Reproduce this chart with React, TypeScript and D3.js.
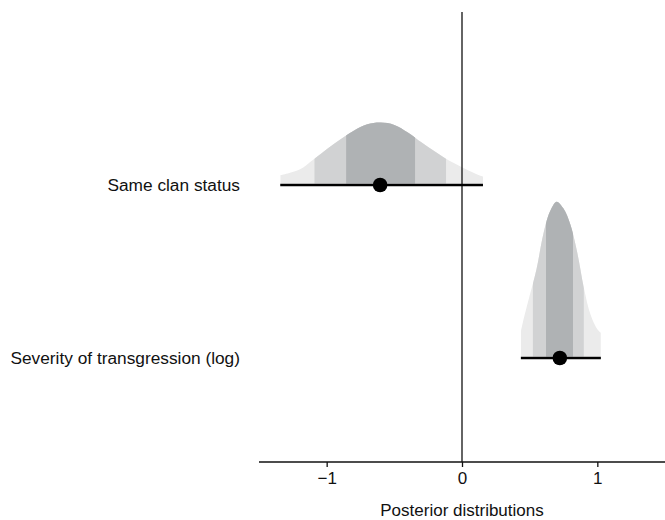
import { useEffect, useRef } from 'react';
import * as d3 from 'd3';

// Posterior summaries, one entry per predictor
const predictors = ['Same clan status', 'Severity of transgression (log)'];
const medians = [-0.605, 0.723];
const lower95 = [-1.343, 0.435];
const upper95 = [0.155, 1.026];
const lower80 = [-1.09, 0.524];
const upper80 = [-0.118, 0.9];
const lower50 = [-0.856, 0.62];
const upper50 = [-0.347, 0.82];

// Posterior density profiles
const clanX = [-1.343, -1.2, -1.1, -1.0, -0.9, -0.8, -0.7, -0.6, -0.5, -0.4, -0.3, -0.2, -0.1, 0, 0.1, 0.155];
const clanDensity = [0.14, 0.24, 0.41, 0.59, 0.76, 0.91, 1.02, 1.05, 1.01, 0.88, 0.71, 0.55, 0.4, 0.28, 0.17, 0.12];
const severityX = [0.435, 0.45, 0.5, 0.55, 0.6, 0.65, 0.7, 0.75, 0.8, 0.85, 0.9, 0.95, 1.0, 1.026];
const severityDensity = [0.43, 0.59, 1.05, 1.5, 2.1, 2.5, 2.67, 2.55, 2.28, 1.81, 1.19, 0.72, 0.47, 0.41];

const xTicks = [-1, 0, 1];

export default function App() {
  const svgRef = useRef<SVGSVGElement>(null);

  useEffect(() => {
    if (!svgRef.current) return;
    const svg = d3.select(svgRef.current);
    svg.selectAll('*').remove();

    const W = 665, H = 520;
    const font = '"Liberation Sans", Arial, Helvetica, sans-serif';
    const axisY = 462;

    const x = d3.scaleLinear().domain([-1.5, 1.5]).range([259, 665]);
    const y = d3.scalePoint<string>().domain(predictors).range([185, 358]);
    const dens = d3.scaleLinear().domain([0, 3]).range([0, 174]);

    const profiles = [
      clanX.map((v, i) => ({ x: v, d: clanDensity[i] })),
      severityX.map((v, i) => ({ x: v, d: severityDensity[i] })),
    ];

    const bands = [
      { lo: lower95, hi: upper95, fill: '#ebebeb' },
      { lo: lower80, hi: upper80, fill: '#d1d2d3' },
      { lo: lower50, hi: upper50, fill: '#afb2b4' },
    ];

    const defs = svg.append('defs');

    predictors.forEach((p, i) => {
      const base = y(p)! - 1.5;
      const area = d3.area<{ x: number; d: number }>()
        .x(d => x(d.x))
        .y0(base)
        .y1(d => base - dens(d.d))
        .curve(d3.curveCatmullRom);

      bands.forEach((b, j) => {
        const id = `clip-${i}-${j}`;
        defs.append('clipPath').attr('id', id)
          .append('rect')
          .attr('x', x(b.lo[i]))
          .attr('y', 0)
          .attr('width', x(b.hi[i]) - x(b.lo[i]))
          .attr('height', H);
        svg.append('path')
          .datum(profiles[i])
          .attr('d', area)
          .attr('fill', b.fill)
          .attr('clip-path', `url(#${id})`);
      });
    });

    // zero reference line
    svg.append('line')
      .attr('x1', x(0)).attr('x2', x(0))
      .attr('y1', 12).attr('y2', axisY)
      .attr('stroke', '#111').attr('stroke-width', 1.3);

    // intervals + medians
    predictors.forEach((p, i) => {
      svg.append('line')
        .attr('x1', x(lower95[i])).attr('x2', x(upper95[i]))
        .attr('y1', y(p)!).attr('y2', y(p)!)
        .attr('stroke', '#000').attr('stroke-width', 2.6);
      svg.append('circle')
        .attr('cx', x(medians[i])).attr('cy', y(p)!)
        .attr('r', 7.3).attr('fill', '#000');
      svg.append('text')
        .attr('x', 240).attr('y', y(p)! + 6)
        .attr('text-anchor', 'end')
        .attr('font-family', font).attr('font-size', 17.3)
        .attr('fill', '#111')
        .text(p);
    });

    // x axis
    const ax = svg.append('g').attr('transform', `translate(0,${axisY})`)
      .call(d3.axisBottom(x).tickValues(xTicks).tickSize(5).tickPadding(5)
        .tickFormat(d => d3.format('')(d as number).replace('-', '\u2212')));
    ax.select('.domain').attr('d', `M${x(-1.5)},0H${x(1.5)}`).attr('stroke', '#111').attr('stroke-width', 1.3);
    ax.selectAll('.tick line').attr('stroke', '#111').attr('stroke-width', 1.3);
    ax.selectAll('.tick text').attr('font-family', font).attr('font-size', 17).attr('fill', '#111');

    svg.append('text')
      .attr('x', x(0)).attr('y', 516)
      .attr('text-anchor', 'middle')
      .attr('font-family', font).attr('font-size', 17)
      .attr('fill', '#111')
      .text('Posterior distributions');

    svg.attr('width', W).attr('height', H);
  }, []);

  return (
    <div style={{ position: 'absolute', left: 0, top: 0, width: 665, height: 520, background: '#fff' }}>
      <svg ref={svgRef} style={{ display: 'block' }} />
    </div>
  );
}
